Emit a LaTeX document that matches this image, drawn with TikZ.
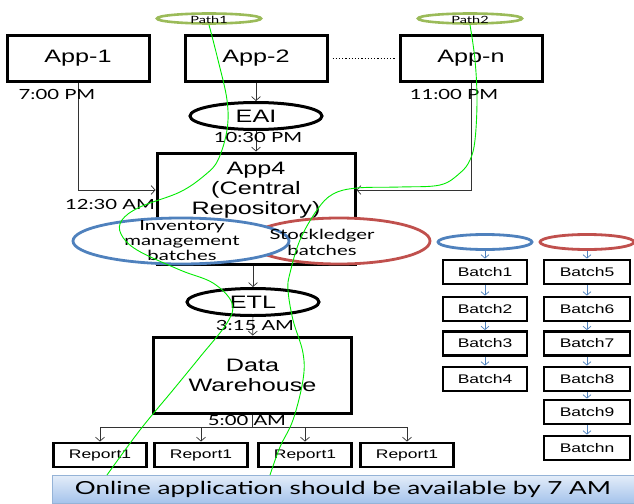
\documentclass[tikz,border=0pt]{standalone}
\usepackage{fontspec}
\setmainfont{Liberation Sans}[FakeStretch=1.4]
\newfontfamily\lblfont{Lato}[FakeStretch=1.45]
\usepackage{tikz}
\usetikzlibrary{shapes.geometric, arrows.meta, positioning}
\definecolor{pathgreen}{RGB}{155,187,89}
\definecolor{trackgreen}{RGB}{0,235,0}
\definecolor{invblue}{RGB}{79,129,189}
\definecolor{ledgerred}{RGB}{192,80,77}
\definecolor{bannertop}{RGB}{228,237,249}
\definecolor{bannerbot}{RGB}{165,195,235}
\definecolor{bannerline}{RGB}{149,179,215}

\begin{document}
\begin{tikzpicture}[
    x=1pt, y=-1pt,
    appbox/.style={draw, line width=3pt, minimum width=142pt, minimum height=45pt, font=\fontsize{18}{20}\selectfont},
    bigbox/.style={draw, line width=3pt, minimum width=198pt, align=center, font=\fontsize{18}{20}\selectfont},
    oval/.style={ellipse, draw, line width=3pt, inner sep=0pt, minimum width=132pt, minimum height=27pt, font=\fontsize{18}{20}\selectfont},
    pathoval/.style={ellipse, draw=pathgreen, line width=2.6pt, inner sep=0pt, minimum width=104pt, minimum height=10pt},
    pathtag/.style={font=\lblfont\fontsize{10}{10}\selectfont, inner sep=0pt},
    timetag/.style={font=\lblfont\fontsize{14}{14}\selectfont, inner sep=0pt},
    batchoval/.style={ellipse, draw, fill=white, line width=2.8pt, inner sep=0pt},
    oventext/.style={font=\lblfont\fontsize{14}{15}\selectfont, align=center, inner sep=0pt},
    smallbox/.style={draw, line width=2.8pt, minimum height=24pt, inner sep=0pt, font=\fontsize{12.5}{12.5}\selectfont},
    arrow/.style={-{Straight Barb[length=4pt, width=9pt]}, line width=0.7pt, black!80},
    barrow/.style={-{Straight Barb[length=3.5pt, width=8pt]}, line width=0.7pt, invblue},
    track/.style={trackgreen, line width=0.9pt}
]
    \useasboundingbox (0,0) rectangle (634,503);

    % sources
    \node[appbox] (app1) at (78,58.5) {App-1};
    \node[appbox] (app2) at (256,58.5) {App-2};
    \node[appbox] (appn) at (471,58.5) {App-n};
    \draw[dotted, line width=1.2pt, shorten <=4pt, shorten >=4pt] (app2) -- (appn);

    \node[pathoval] (p1) at (209,18.5) {};
    \node[pathtag] (p1tag) at (209,19.5) {Path1};
    \node[pathoval] (p2) at (470,18.5) {};
    \node[pathtag] (p2tag) at (470,19.5) {Path2};

    \node[oval] (eai) at (256,116) {EAI};
    \draw[arrow] (app2) -- (eai);

    % central repository
    \node[bigbox, minimum height=111pt] (app4) at (256,208.5) {};
    \node[align=center, inner sep=0pt, font=\fontsize{18}{20}\selectfont] (app4txt) at (256,190) {App4\\(Central\\Repository)};
    \draw[arrow] (eai) -- (app4);
    \draw[arrow] (app1.south) |- (app4txt -| app4.west);
    \draw[arrow] (appn.south) |- (app4txt -| app4.east);

    \node[timetag] (t1) at (57,94) {7:00 PM};
    \node[timetag] (t2) at (258,137) {10:30 PM};
    \node[timetag] (t3) at (454,94) {11:00 PM};
    \node[timetag] (t4) at (110,204) {12:30 AM};

    \node[oval] (etl) at (253,302) {ETL};
    \draw[arrow] (app4.south -| etl) -- (etl);

    \node[batchoval, draw=ledgerred, minimum width=182pt, minimum height=46pt] (ledger) at (339,241) {};
    \node[batchoval, draw=invblue, minimum width=216pt, minimum height=46pt] (inv) at (181,241) {};
    \node[oventext] (invtxt) at (182,241) {Inventory\\management\\batches};
    \node[oventext, font=\lblfont\fontsize{14}{16}\selectfont] (ledgertxt) at (322,242) {Stockledger\\batches};

    % warehouse and reports
    \node[bigbox, minimum height=76pt] (dw) at (252.5,375) {Data\\Warehouse};
    \draw[arrow] (etl) -- (dw);
    \node[timetag] (t5) at (255,325) {3:15 AM};
    \node[timetag] (t6) at (247,420) {5:00 AM};

    \coordinate (split) at (252.5,427);
    \foreach \x [count=\i] in {100,201,305,407}
        \node[smallbox, minimum width=93pt] (rep\i) at (\x,455) {Report1};
    \draw[line width=0.7pt, black!80] (dw.south) -- (split);
    \draw[line width=0.7pt, black!80] (rep1.north |- split) -- (rep4.north |- split);
    \foreach \i in {1,...,4}
        \draw[arrow] (rep\i.north |- split) -- (rep\i);

    % batch chains
    \node[batchoval, draw=invblue, minimum width=94pt, minimum height=15pt] (bov1) at (485,242) {};
    \node[batchoval, draw=ledgerred, minimum width=94pt, minimum height=15pt] (bov2) at (587,242) {};
    \foreach \n/\y in {1/272, 2/309, 3/343.5, 4/379}
        \node[smallbox, minimum width=84pt] (b\n) at (485,\y) {Batch\n};
    \foreach \n/\y in {5/272, 6/309, 7/343.5, 8/379, 9/412, n/448}
        \node[smallbox, minimum width=86pt] (b\n) at (587,\y) {Batch\n};
    \draw[barrow] (bov1) -- (b1);
    \foreach \a/\b in {1/2, 2/3, 3/4}
        \draw[barrow] (b\a) -- (b\b);
    \draw[barrow] (bov2) -- (b5);
    \foreach \a/\b in {5/6, 6/7, 7/8, 8/9, 9/n}
        \draw[barrow] (b\a) -- (b\b);

    \node[draw=bannerline, line width=0.8pt, top color=bannertop, bottom color=bannerbot, minimum width=582pt, minimum height=28pt, inner sep=0pt, font=\lblfont\fontsize{18}{18}\selectfont] (banner) at (343,489) {Online application should be available by 7 AM};

    % paths
    \coordinate (end1) at (107,475);
    \coordinate (end2) at (270,475);
    \draw[track] plot[smooth, tension=0.6] coordinates {(p1.south) (218,60) (227,100) (227,130) (218,160) (205,175) (180,192) (140,207) (122,220) (121,234) (137,250) (180,270) (213,283) (232,303) (227,323) (200,357) (173,390) (140,430) (end1)};
    \draw[track] plot[smooth, tension=0.6] coordinates {(p2.south) (475,60) (477,100) (475,140) (470,160) (460,173) (440,185) (400,187) (357,188) (333,194) (317,210) (300,240) (290,273) (288,290) (293,320) (303,353) (303,380) (293,420) (280,447) (end2)};
\end{tikzpicture}
\end{document}
